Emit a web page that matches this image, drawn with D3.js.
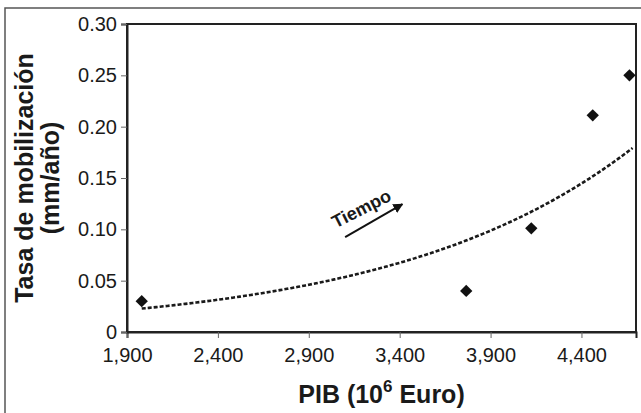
<!DOCTYPE html>
<html>
<head>
<meta charset="utf-8">
<script src="https://cdn.jsdelivr.net/npm/d3@7"></script>
<style>
  body { margin: 0; background: #fff; }
  text { font-family: "Liberation Sans", Arial, sans-serif; fill: #1a1a1a; }
</style>
</head>
<body>
<div id="chart"></div>
<script>
// chart size
var svgWidth = 641;
var svgHeight = 413;

var margin = { top: 24, right: 5, bottom: 81, left: 127 };
var width = svgWidth - margin.left - margin.right;
var height = svgHeight - margin.top - margin.bottom;

// data
var pib = [1981, 3766, 4124, 4462, 4664];
var tasa = [0.030, 0.040, 0.101, 0.211, 0.250];
var xTicks = [1900, 2400, 2900, 3400, 3900, 4400];
var yTicks = [0, 0.05, 0.10, 0.15, 0.20, 0.25, 0.30];

var svg = d3.select("#chart")
  .append("svg")
  .attr("width", svgWidth)
  .attr("height", svgHeight);

// outer frame (runs off the right and bottom edges)
svg.append("rect")
  .attr("x", 5).attr("y", 8)
  .attr("width", 650).attr("height", 420)
  .attr("fill", "none")
  .attr("stroke", "#555")
  .attr("stroke-width", 1.5);

var chart = svg.append("g")
  .attr("transform", `translate(${margin.left}, ${margin.top})`);

var x = d3.scaleLinear().domain([1900, 4700]).range([0, width]);
var y = d3.scaleLinear().domain([0, 0.30]).range([height, 0]);

// plot border
chart.append("rect")
  .attr("width", width).attr("height", height)
  .attr("fill", "none")
  .attr("stroke", "#222")
  .attr("stroke-width", 2);

// axes
var xAxis = chart.append("g")
  .attr("transform", `translate(0, ${height})`)
  .call(d3.axisBottom(x).tickValues(xTicks).tickSize(6).tickPadding(10)
    .tickFormat(d3.format(",")));

var yAxis = chart.append("g")
  .call(d3.axisLeft(y).tickValues(yTicks).tickSize(6).tickPadding(4)
    .tickFormat(d => d === 0 ? "0" : d3.format(".2f")(d)));

[xAxis, yAxis].forEach(function(a) {
  a.attr("font-size", 20).attr("font-family", null);
  a.select(".domain").attr("stroke", "#222").attr("stroke-width", 2);
  a.selectAll(".tick line").attr("stroke", "#666").attr("stroke-width", 1);
  a.selectAll(".tick text").attr("fill", "#222");
});

// exponential trend line fitted to the points
var lnY = tasa.map(Math.log);
var mx = d3.mean(pib), my = d3.mean(lnY);
var sxy = d3.sum(pib, (v, i) => (v - mx) * (lnY[i] - my));
var sxx = d3.sum(pib, v => (v - mx) * (v - mx));
var b = sxy / sxx;
var a = Math.exp(my - b * mx);
var trend = d3.range(d3.min(pib), 4701, 20).map(v => [v, a * Math.exp(b * v)]);

chart.append("path")
  .datum(trend)
  .attr("fill", "none")
  .attr("stroke", "#1a1a1a")
  .attr("stroke-width", 2.6)
  .attr("stroke-dasharray", "4,2")
  .attr("d", d3.line().x(d => x(d[0])).y(d => y(d[1])));

// points
var diamond = d3.symbol().type(d3.symbolSquare).size(76);
chart.selectAll(".pt")
  .data(pib)
  .enter()
  .append("path")
  .attr("class", "pt")
  .attr("d", diamond)
  .attr("fill", "#111")
  .attr("transform", (d, i) => `translate(${x(d)}, ${y(tasa[i])}) rotate(45)`);

// "Tiempo" arrow annotation
svg.append("defs").append("marker")
  .attr("id", "head")
  .attr("viewBox", "0 0 10 10")
  .attr("refX", 9).attr("refY", 5)
  .attr("markerWidth", 5).attr("markerHeight", 5)
  .attr("orient", "auto")
  .append("path")
  .attr("d", "M0,0 L10,5 L0,10 z")
  .attr("fill", "#111");

chart.append("line")
  .attr("x1", x(3100)).attr("y1", y(0.0925))
  .attr("x2", x(3415)).attr("y2", y(0.1245))
  .attr("stroke", "#111")
  .attr("stroke-width", 2)
  .attr("marker-end", "url(#head)");

chart.append("text")
  .attr("transform", `translate(${x(3190)}, ${y(0.12)}) rotate(-27)`)
  .attr("text-anchor", "middle")
  .attr("dominant-baseline", "central")
  .attr("font-size", "18px")
  .attr("font-weight", "bold")
  .text("Tiempo");

// axis titles
var xt = svg.append("text")
  .attr("x", margin.left + width / 2)
  .attr("y", 403)
  .attr("text-anchor", "middle")
  .attr("font-size", "25px")
  .attr("font-weight", "bold");
xt.append("tspan").text("PIB (10");
xt.append("tspan").attr("dy", -11).attr("font-size", "17px").text("6");
xt.append("tspan").attr("dy", 11).text(" Euro)");

var yt = svg.append("text")
  .attr("transform", `translate(33, ${margin.top + height / 2}) rotate(-90)`)
  .attr("text-anchor", "middle")
  .attr("font-size", "25px")
  .attr("font-weight", "bold");
yt.append("tspan").attr("x", 0).attr("y", 0).text("Tasa de mobilización");
yt.append("tspan").attr("x", 0).attr("y", 26).text("(mm/año)");
</script>
</body>
</html>
